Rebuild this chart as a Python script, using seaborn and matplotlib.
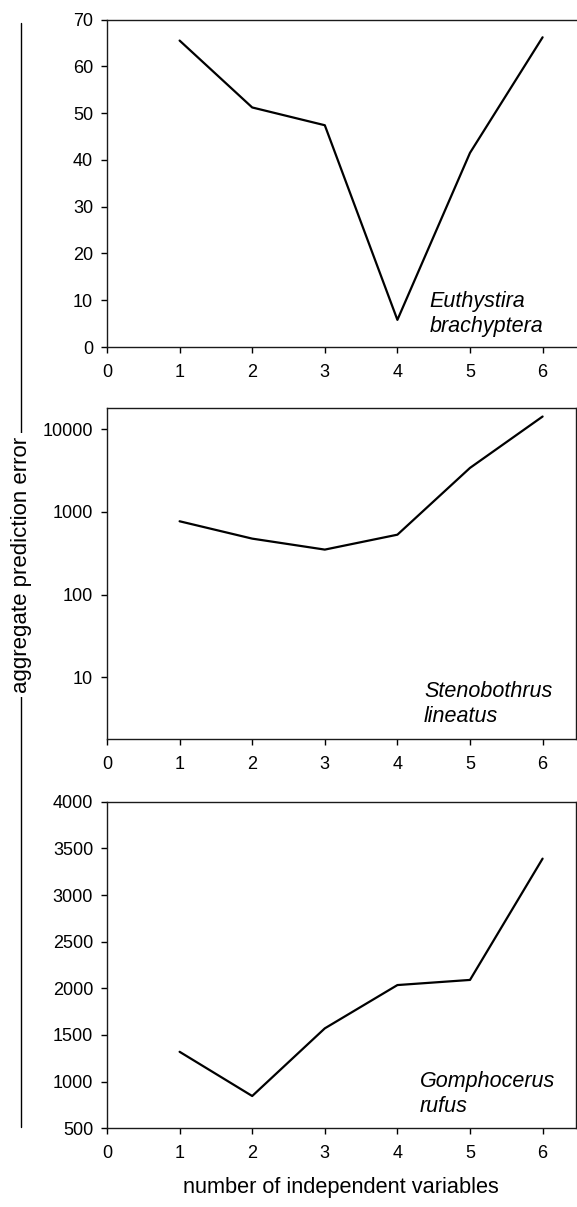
import matplotlib
matplotlib.use("Agg")
import matplotlib.pyplot as plt
from matplotlib.lines import Line2D
from matplotlib.ticker import FixedLocator, NullLocator, FixedFormatter
import pandas as pd
import seaborn as sns

# Number of independent variables in the model
n_vars = [1, 2, 3, 4, 5, 6]

# Aggregate prediction error per species
euthystira = [65.5, 51.2, 47.4, 5.8, 41.5, 66.2]
stenobothrus = [770, 475, 350, 530, 3400, 14200]
gomphocerus = [1320, 846, 1571, 2035, 2090, 3390]

species_names = ["Euthystira\nbrachyptera", "Stenobothrus\nlineatus", "Gomphocerus\nrufus"]
x_ticks = [0, 1, 2, 3, 4, 5, 6]
y_ticks_top = [0, 10, 20, 30, 40, 50, 60, 70]
y_ticks_mid = [10, 100, 1000, 10000]
y_ticks_bot = [500, 1000, 1500, 2000, 2500, 3000, 3500, 4000]

sns.set_style("ticks")
plt.rcParams["font.family"] = ["Liberation Sans", "DejaVu Sans"]
plt.rcParams["text.color"] = "black"
plt.rcParams["xtick.color"] = "black"
plt.rcParams["ytick.color"] = "black"

W, H = 577, 1207
fig = plt.figure(figsize=(W / 100, H / 100), dpi=100)

left = 107 / W
width = 469 / W
# (top px, bottom px) of each panel
panels_px = [(19.5, 347.0), (408.0, 739.0), (801.7, 1128.3)]
axes = []
for top, bot in panels_px:
    ax = fig.add_axes([left, 1 - bot / H, width, (bot - top) / H])
    axes.append(ax)

series = [euthystira, stenobothrus, gomphocerus]
for ax, vals in zip(axes, series):
    df = pd.DataFrame({"n": n_vars, "err": vals})
    sns.lineplot(data=df, x="n", y="err", ax=ax, color="black", linewidth=1.6)
    ax.set_xlim(0, 6.46)
    ax.set_xticks(x_ticks)
    ax.set_xlabel("")
    ax.set_ylabel("")
    for s in ax.spines.values():
        s.set_color("#1a1a1a")
        s.set_linewidth(1.0)
    ax.tick_params(axis="both", labelsize=13, length=4, width=1.0,
                   labelcolor="black")
    ax.tick_params(axis="y", pad=6)
    ax.tick_params(axis="x", pad=8)

# top panel: linear scale, open on the right
ax = axes[0]
ax.set_ylim(0, 70)
ax.set_yticks(y_ticks_top)
ax.spines["right"].set_visible(False)

# middle panel: logarithmic scale
ax = axes[1]
ax.set_yscale("log")
ax.set_ylim(1.8, 18000)
ax.yaxis.set_major_locator(FixedLocator(y_ticks_mid))
ax.yaxis.set_major_formatter(FixedFormatter([str(v) for v in y_ticks_mid]))
ax.yaxis.set_minor_locator(NullLocator())

# bottom panel
ax = axes[2]
ax.set_ylim(500, 4000)
ax.set_yticks(y_ticks_bot)

# species names (anchored on the baseline of the second line)
label_pos = [(0.687, 0.047), (0.676, 0.051), (0.667, 0.050)]
for ax, name, (lx, ly) in zip(axes, species_names, label_pos):
    ax.text(lx, ly, name, transform=ax.transAxes, fontsize=15.5,
            fontstyle="italic", ha="left", va="baseline", linespacing=1.25)

# shared axis titles
line = Line2D([21 / W, 21 / W], [1 - 23 / H, 1 - 1127 / H],
              transform=fig.transFigure, color="black", linewidth=1.0)
fig.add_artist(line)
fig.text(22 / W, 1 - 565 / H, "aggregate prediction error", rotation=90,
         ha="center", va="center", fontsize=16,
         bbox=dict(facecolor="white", edgecolor="none", pad=3))
fig.text(341 / W, 1 - 1188 / H, "number of independent variables",
         ha="center", va="center", fontsize=15.7)

fig.savefig("out.png", dpi=100, facecolor="white")
